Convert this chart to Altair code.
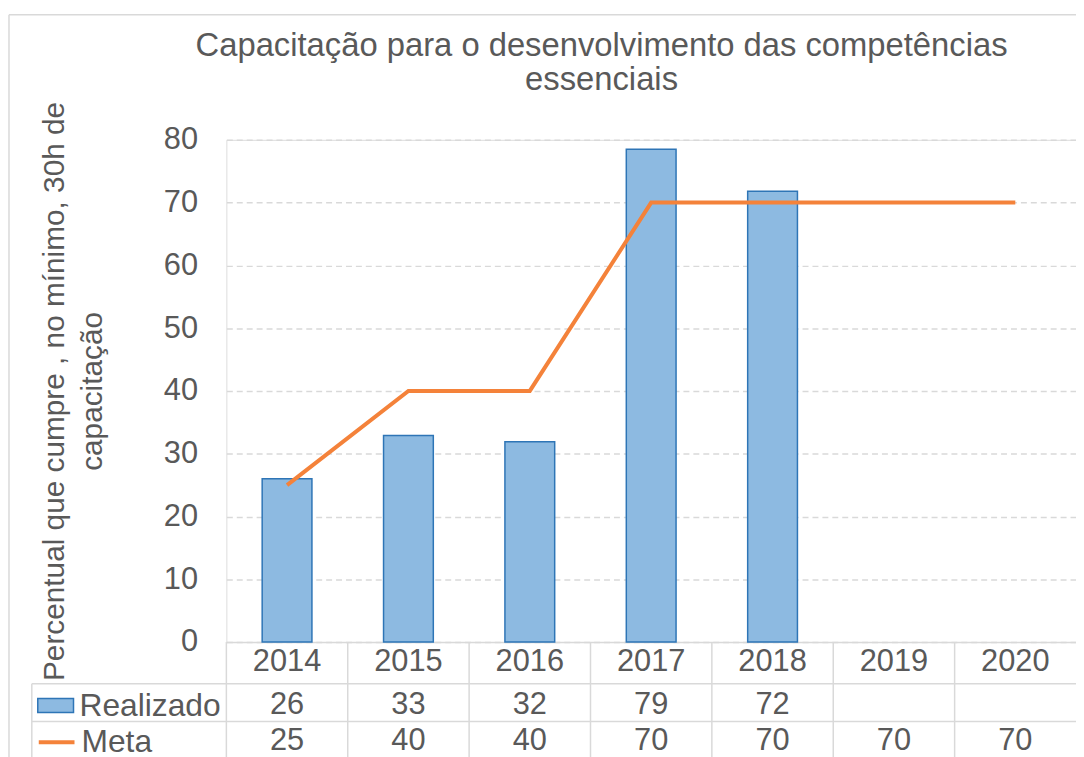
import altair as alt
import pandas as pd

anos = ["2014", "2015", "2016", "2017", "2018", "2019", "2020"]
realizado = [26, 32.9, 31.9, 78.5, 71.8, None, None]
meta = [25, 40, 40, 70, 70, 70, 70]
titulo = ["Capacitação para o desenvolvimento das competências", "essenciais"]
titulo_y = ["Percentual que cumpre , no mínimo, 30h de", "capacitação"]

df = pd.DataFrame({"ano": anos, "Realizado": realizado, "Meta": meta})
one = pd.DataFrame({"k": [0]})

FONT = "Liberation Sans"
TXT = "#595959"
GRID = "#D9D9D9"
BLUE_FILL = "#8DBAE1"
BLUE_LINE = "#2E75B6"
ORANGE = "#F4823A"

W, H = 856, 506

x_axis = alt.Axis(title=None, orient="bottom", labelAngle=0, labelFontSize=31,
                  labelColor=TXT, labelPadding=5, labelBaseline="top", ticks=False,
                  domainColor=GRID, domainWidth=1.5, grid=False, labelFont=FONT)
x_scale = alt.Scale(paddingInner=0, paddingOuter=0)


def xenc(**kw):
    return alt.X("ano:O", sort=anos, scale=x_scale, axis=x_axis, **kw)


bars = alt.Chart(df).transform_filter("isValid(datum.Realizado)").transform_calculate(
    serie="'Realizado'"
).mark_bar(width=alt.RelativeBandSize(0.41), stroke=BLUE_LINE, strokeWidth=1.5).encode(
    x=xenc(),
    y=alt.Y("Realizado:Q", scale=alt.Scale(domain=[0, 80]),
            axis=alt.Axis(values=list(range(0, 90, 10)), labelFontSize=31, labelColor=TXT,
                          labelFont=FONT, labelPadding=29, ticks=False, domain=False,
                          gridColor=GRID, gridWidth=1.5, gridDash=[6, 4],
                          title=titulo_y, titleFontSize=30, titleFont=FONT,
                          titleFontWeight="normal", titleColor=TXT, titleAngle=-90,
                          titleX=-158, titleY=253, titleAlign="center",
                          titleBaseline="bottom", titleLineHeight=38)),
    fill=alt.Fill("serie:N", scale=alt.Scale(domain=["Realizado"], range=[BLUE_FILL]),
                  legend=alt.Legend(orient="none", legendX=-191, legendY=551, title=None,
                                    symbolType="M-1,-0.39H1V0.39H-1Z", symbolSize=1296,
                                    symbolStrokeColor=BLUE_LINE, symbolStrokeWidth=1.5,
                                    labelFontSize=32, labelColor=TXT, labelFont=FONT,
                                    labelOffset=5, padding=0, labelLimit=300)),
)

line = alt.Chart(df).transform_calculate(serie="'Meta'").mark_line(strokeWidth=4).encode(
    x=xenc(),
    y=alt.Y("Meta:Q"),
    stroke=alt.Stroke("serie:N", scale=alt.Scale(domain=["Meta"], range=[ORANGE]),
                      legend=alt.Legend(orient="none", legendX=-191, legendY=587, title=None,
                                        symbolType="stroke", symbolSize=1296,
                                        symbolStrokeWidth=4, labelFontSize=32,
                                        labelColor=TXT, labelFont=FONT, labelOffset=5,
                                        padding=0, labelLimit=300)),
)

txt_real = alt.Chart(df).transform_filter("isValid(datum.Realizado)").mark_text(
    fontSize=31, color=TXT, font=FONT, baseline="middle").encode(
    x=xenc(),
    y=alt.value(569),
    text=alt.Text("Realizado:Q", format=".0f"),
)

txt_meta = alt.Chart(df).mark_text(
    fontSize=31, color=TXT, font=FONT, baseline="middle").encode(
    x=xenc(),
    y=alt.value(606),
    text=alt.Text("Meta:Q", format=".0f"),
)

col_lines = alt.Chart(df).mark_rule(color=GRID, strokeWidth=1.5).encode(
    x=xenc(bandPosition=0),
    y=alt.value(506), y2=alt.value(625),
)

hlines = alt.Chart(pd.DataFrame({"yy": [548, 586]})).mark_rule(color=GRID, strokeWidth=1.5).encode(
    x=alt.value(-196), x2=alt.value(W), y=alt.Y("yy:Q", scale=None),
)

vleft = alt.Chart(one).mark_rule(color=GRID, strokeWidth=1.5).encode(
    x=alt.value(-196), y=alt.value(548), y2=alt.value(625))

border_v = alt.Chart(one).mark_rule(color=GRID, strokeWidth=1.5).encode(
    x=alt.value(-219), y=alt.value(-126), y2=alt.value(625))
border_h = alt.Chart(one).mark_rule(color=GRID, strokeWidth=1.5).encode(
    x=alt.value(-219), x2=alt.value(W), y=alt.value(-126))

chart = alt.layer(
    border_v, border_h, col_lines, hlines, vleft, bars, line, txt_real, txt_meta
).resolve_scale(fill="independent", stroke="independent").properties(
    width=W, height=H,
    autosize=alt.AutoSizeParams(type="none"),
    padding={"left": 220, "top": 130, "right": 0, "bottom": 113},
    title=alt.TitleParams(text=titulo, fontSize=33, font=FONT, color=TXT,
                          fontWeight="normal", anchor="middle", dx=-50, offset=-84,
                          lineHeight=35),
).configure_view(stroke=None).configure(font=FONT)

chart.save("out.html", embed_options={"renderer": "svg", "actions": False})
